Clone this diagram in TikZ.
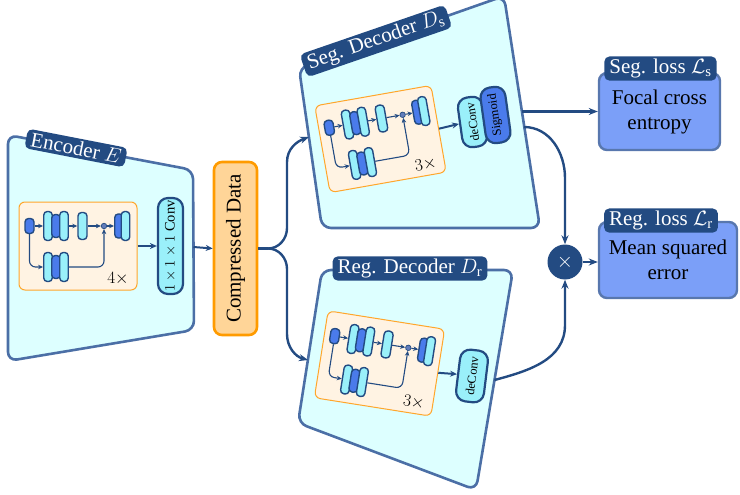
\documentclass[tikz,border=0pt]{standalone}
\usepackage{fontspec}
\setmainfont{Liberation Serif}
\usetikzlibrary{arrows.meta,positioning}
\definecolor{dkb}{HTML}{234B82}
\definecolor{pnl}{HTML}{DDFFFF}
\definecolor{pnld}{HTML}{4B6FA6}
\definecolor{blk}{HTML}{FFF3E3}
\definecolor{blkd}{HTML}{FFA62B}
\definecolor{cy}{HTML}{9AF0FA}
\definecolor{bl}{HTML}{4A7BEB}
\definecolor{loss}{HTML}{7B9FF8}
\definecolor{lossd}{HTML}{5877AE}
\definecolor{cdf}{HTML}{FFD598}
\definecolor{cdd}{HTML}{FF9B00}
\tikzset{
  panel/.style={draw=pnld,line width=2.6pt,fill=pnl,rounded corners=9pt},
  tab/.style={fill=dkb,text=white,rounded corners=5pt,inner xsep=5pt,inner ysep=2.5pt},
  blkbox/.style={draw=blkd,line width=1pt,fill=blk,rounded corners=6pt,minimum width=118pt,minimum height=88pt,inner sep=0pt},
  slab/.style={draw=dkb,line width=1.4pt,fill=cy,rounded corners=3.5pt,minimum width=8.5pt,inner sep=0pt},
  bslab/.style={slab,fill=bl},
  lyr/.style={draw=dkb,line width=2.2pt,fill=cy,rounded corners=10pt,inner sep=2pt,align=center},
  loss/.style={draw=lossd,line width=2.4pt,fill=loss,rounded corners=8pt,align=center,
    execute at begin node={\vspace*{9pt}}},
  conn/.style={draw=dkb,line width=2.4pt,-{Stealth[length=9pt,width=7pt]}},
  sconn/.style={conn,line width=2pt,-{Stealth[length=7pt,width=6pt]}},
  sar/.style={draw=dkb,line width=1.1pt,-{Stealth[length=5pt,width=4.5pt]}},
}
% residual block in local coordinates: #1 name prefix, #2 repeats
\newcommand{\resblk}[2]{%
  \node[blkbox] (#1) at (0,0) {};
  \node[bslab,minimum width=9pt,minimum height=15pt] (#1i) at (-48.5,-20) {};
  \node[slab,minimum height=29pt] (#1t) at (-30,-20) {};
  \node[bslab,minimum height=23pt] at (-22,-20) {};
  \node[slab,minimum height=29pt] (#1tr) at (-14,-20) {};
  \node[slab,minimum width=9pt,minimum height=27pt] (#1s) at (4.5,-20) {};
  \node[circle,draw=dkb,fill=bl!55!gray,inner sep=0pt,minimum size=5.5pt,line width=0.7pt] (#1d) at (26,-20) {};
  \node[bslab,minimum height=24pt] (#1o) at (41,-20) {};
  \node[slab,minimum height=29pt] at (47.5,-20) {};
  \node[slab,minimum height=29pt] (#1b) at (-30,21) {};
  \node[bslab,minimum height=23pt] at (-22,21) {};
  \node[slab,minimum height=29pt] (#1br) at (-14,21) {};
  \node[font=\fontsize{16}{18}\selectfont] at (40,33) {$#2\times$};
  \draw[sar] (#1i) -- (#1t);
  \draw[sar] (#1tr) -- (#1s);
  \draw[sar] (#1s) -- (#1d);
  \draw[sar] (#1d) -- (#1o);
  \draw[sar,rounded corners=6pt] (#1i.south) -- (-48.5,21) -- (#1b.west);
  \draw[sar,rounded corners=6pt] (#1br.east) -- (26,21) -- (#1d.south);
}

\begin{document}
\begin{tikzpicture}[x=1pt,y=-1pt,font=\fontsize{21}{25}\selectfont]
\useasboundingbox (0,0) rectangle (740,495);

% panels
\coordinate (e1) at (8,135); \coordinate (e2) at (193,170);
\coordinate (e3) at (194,330); \coordinate (e4) at (8,361);
\draw[panel] (e1) -- (e2) -- (e3) -- (e4) -- cycle;
\coordinate (s1) at (299,68); \coordinate (s2) at (504,-4);
\coordinate (s3) at (540,228); \coordinate (s4) at (322,228);
\draw[panel] (s1) -- (s2) -- (s3) -- (s4) -- cycle;
\coordinate (r1) at (322,270); \coordinate (r2) at (513,270);
\coordinate (r3) at (476,490); \coordinate (r4) at (298,423);
\draw[panel] (r1) -- (r2) -- (r3) -- (r4) -- cycle;

\node[tab,rotate=-11] (enclbl) at (76,148) {Encoder $E$};
\node[tab,rotate=19] (seglbl) at (376,41) {Seg. Decoder $D_\mathrm{s}$};
\node[tab] (reglbl) at (410,268.5) {Reg. Decoder $D_\mathrm{r}$};

% encoder
\begin{scope}[shift={(78,246)}]
  \resblk{eb}{4}
\end{scope}
\node[lyr,rotate=90,minimum width=96pt,minimum height=25pt,font=\fontsize{14.5}{16}\selectfont] (conv) at (170.5,246) {$1\times1\times1$ Conv};
\draw[sconn] (eb) -- (conv.north);

% seg decoder
\begin{scope}[shift={(380.5,139)},rotate=10,transform shape]
  \resblk{sb}{3}
\end{scope}
\node[lyr,rotate=98,minimum width=50pt,minimum height=25pt,inner sep=1pt,font=\fontsize{12.5}{14}\selectfont] (sdc) at (472.5,122) {deConv};
\node[lyr,fill=bl,rotate=98,minimum width=56pt,minimum height=25pt,inner sep=1pt,font=\fontsize{12.5}{14}\selectfont] (sig) at (495.5,115) {Sigmoid};
\draw[sconn] (sb.east) -- (sdc.north);

% reg decoder
\begin{scope}[shift={(379.5,363.5)},rotate=-9,transform shape]
  \resblk{rb}{3}
\end{scope}
\node[lyr,rotate=83,minimum width=52pt,minimum height=28pt,inner sep=1pt,font=\fontsize{12.5}{14}\selectfont] (rdc) at (472,376) {deConv};
\draw[sconn] (rb.east) -- (rdc.north);

% compressed data
\node[draw=cdd,fill=cdf,line width=2.6pt,rounded corners=8pt,rotate=90,minimum width=173pt,minimum height=43pt] (cd) at (235.5,248.5) {Compressed Data};

% losses
\node[loss,minimum width=121pt,minimum height=77pt] (segloss) at (659.5,111.5) {Focal cross\\entropy};
\node[tab,above=-9pt of segloss.north,xshift=1pt] (seglosslbl) {Seg. loss $\mathcal{L}_\mathrm{s}$};
\node[loss,minimum width=138pt,minimum height=76pt] (regloss) at (668,260) {Mean squared\\error};
\node[tab,above=-12pt of regloss.north,xshift=-7pt] (reglosslbl) {Reg. loss $\mathcal{L}_\mathrm{r}$};
\node[circle,fill=dkb,text=white,minimum size=35pt,inner sep=0pt] (mul) at (565,262) {$\times$};

% connectors
\coordinate (encout) at (193.5,247);
\coordinate (fork) at (268,248.5);
\coordinate (sin) at (309,137);
\coordinate (rin) at (308,360);
\coordinate (sout1) at (522,111.5);
\coordinate (sout2) at (524,127);
\coordinate (rout) at (494.5,380);
\draw[sconn] (encout) -- (cd.north);
\draw[draw=dkb,line width=2.4pt] (cd.south) -- (fork);
\draw[conn] (fork) to[out=0,in=-90] (287,228) -- (287,162) to[out=90,in=200] (sin);
\draw[conn] (fork) to[out=0,in=90] (287,269) -- (287,334) to[out=-90,in=165] (rin);
\draw[conn] (sout1) -- (segloss.west);
\draw[conn] (sout2) to[out=0,in=90] (565,178) -- (mul.north);
\draw[conn] (rout) to[out=15,in=-90] (565,325) -- (mul.south);
\draw[conn] (mul.east) -- (regloss.west |- mul);
\end{tikzpicture}
\end{document}
